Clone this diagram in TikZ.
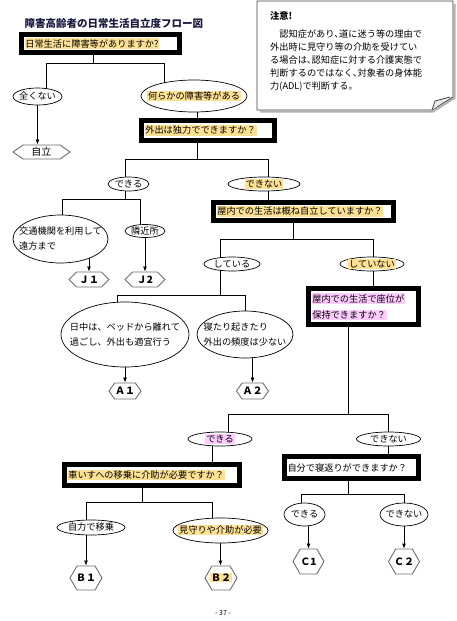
\documentclass[tikz,border=0pt]{standalone}
\usepackage{fontspec}
\setmainfont{Noto Sans CJK JP}
\usetikzlibrary{shapes.geometric, shapes.symbols, arrows.meta, positioning, calc}
\definecolor{hlyellow}{HTML}{FFE194}
\definecolor{hlpink}{HTML}{FFCCFF}
\definecolor{hexgray}{HTML}{6E6E6E}
\definecolor{titleblue}{HTML}{1A1A40}
\pgfdeclarelayer{background}
\pgfsetlayers{background,main}
\newcommand{\qfont}{\fontsize{9.2}{15}\selectfont}
\newcommand{\hly}[1]{{\setlength{\fboxsep}{0.8pt}\colorbox{hlyellow}{#1}}}
\newcommand{\hlp}[1]{{\setlength{\fboxsep}{0.8pt}\colorbox{hlpink}{#1}}}
\newcommand{\ctr}[1]{\raisebox{-.36em}[0pt][0pt]{\makebox[0pt]{#1}}}
\newcommand{\ctt}[1]{\raisebox{-.27em}[0pt][0pt]{\makebox[0pt]{\begin{tabular}{@{}l@{}}#1\end{tabular}}}}

\begin{document}
\begin{tikzpicture}[
  x=1pt, y=-1pt,
  qbox/.style={draw, line width=5pt, fill=white, inner xsep=3pt, inner ysep=1pt, align=left, font=\qfont},
  ell/.style={ellipse, draw, fill=white, inner sep=0pt, line width=0.7pt, font=\qfont},
  hexa/.style={signal, signal to=east and west, signal pointer angle=110, draw=hexgray, line width=0.9pt, fill=white, inner sep=0pt, font=\fontsize{10}{12}\selectfont},
  line/.style={line width=0.8pt},
  arr/.style={-{Latex[length=5pt, width=4pt]}, line width=0.8pt},
  notebox/.style={draw=black!75, line width=0.8pt},
]
\useasboundingbox (0,0) rectangle (456,621);

\node[anchor=west, text=titleblue, font=\fontsize{10.5}{12}\selectfont\bfseries] (title) at (21,24) {障害高齢者の日常生活自立度フロー図};

\coordinate (nw) at (257,1);
\coordinate (se) at (453,110);
\draw[black!30, line width=2pt] ($(nw -| se)+(1.5,3)$) -- ($(se)+(1.5,-12)$) -- ($(se)+(-20,1.5)$) -- ($(nw |- se)+(3,1.5)$);
\draw[notebox, fill=white] (nw) -- (nw -| se) -- ($(se)+(0,-13)$) -- ($(se)+(-21,0)$) -- (nw |- se) -- cycle;
\draw[notebox, fill=black!8] ($(se)+(-21,0)$) -- ($(se)+(-18,-9)$) -- ($(se)+(-3,-13)$);
\node[anchor=north west, inner sep=0pt, align=left, font=\fontsize{9.2}{13}\selectfont] (note) at (270,11)
  {\textbf{注意!}\\[5pt]　認知症があり､道に迷う等の理由で\\外出時に見守り等の介助を受けてい\\る場合は､認知症に対する介護実態で\\判断するのではなく､対象者の身体能\\力(ADL)で判断する。};

\node[qbox, text width=152pt, minimum height=18pt] (q1) at (100.5,43.5) {\hly{日常生活に障害等がありますか?}};
\node[ell, minimum width=49pt, minimum height=17pt] (e1) at (37.5,96.5) {\ctr{全くない}};
\node[ell, minimum width=106pt, minimum height=32pt] (e2) at (194,96) {\ctr{\hly{何らかの障害等がある}}};
\node[hexa, signal pointer angle=70, minimum width=57pt, minimum height=14pt] (h0) at (41.5,152) {\ctr{自立}};

\node[qbox, text width=127pt, minimum height=20pt] (q2) at (208,130.5) {\hly{外出は独力でできますか？}};
\node[ell, minimum width=41pt, minimum height=14pt] (e3) at (128.5,184) {\ctr{できる}};
\node[ell, minimum width=72pt, minimum height=14pt] (e4) at (264,184) {\ctr{\hly{できない}}};
\node[ell, minimum width=95pt, minimum height=48pt] (e5) at (60.5,239) {\ctt{交通機関を利用して\\遠方まで}};
\node[ell, minimum width=40pt, minimum height=13pt] (e6) at (145,231) {\ctr{隣近所}};
\node[hexa, signal pointer angle=90, minimum width=40pt, minimum height=15pt] (hj1) at (89,279.5) {\ctr{\bfseries Ｊ１}};
\node[hexa, signal pointer angle=90, minimum width=40pt, minimum height=15pt] (hj2) at (145,279.5) {\ctr{\bfseries Ｊ2}};

\node[qbox, text width=174pt, minimum height=18pt] (q3) at (303.5,211.5) {\hly{屋内での生活は概ね自立していますか？}};
\node[ell, minimum width=56pt, minimum height=14pt] (e7) at (232,264) {\ctr{している}};
\node[ell, minimum width=64pt, minimum height=14pt] (e8) at (372,264) {\ctr{\hly{していない}}};
\node[ell, minimum width=128pt, minimum height=65pt] (e9) at (125,334.5) {\ctt{日中は、ベッドから離れて\\過ごし、外出も適宜行う}};
\node[ell, minimum width=96pt, minimum height=47pt] (e10) at (245,334.5) {\ctt{寝たり起きたり\\外出の頻度は少ない}};
\node[hexa, minimum width=32pt, minimum height=16pt] (ha1) at (125,391) {\ctr{\bfseries Ａ１}};
\node[hexa, minimum width=32pt, minimum height=16pt] (ha2) at (252.5,391) {\ctr{\bfseries Ａ２}};

\node[qbox, text width=104pt, minimum height=36pt] (q4) at (363.5,306.5) {\hlp{屋内での生活で座位が}\\[1pt]\hlp{保持できますか？}};
\node[ell, minimum width=64pt, minimum height=14pt] (e11) at (220,439) {\ctr{\hlp{できる}}};
\node[ell, minimum width=64pt, minimum height=14pt] (e12) at (388.5,439) {\ctr{できない}};

\node[qbox, text width=169pt, minimum height=21pt] (q5) at (152,475) {\hly{車いすへの移乗に介助が必要ですか？}};
\node[ell, minimum width=68pt, minimum height=15pt] (e13) at (91,527.5) {\ctr{自力で移乗}};
\node[ell, minimum width=95pt, minimum height=25pt] (e14) at (220.5,530.5) {\ctr{\hly{見守りや介助が必要}}};
\node[hexa, signal pointer angle=120, minimum width=32pt, minimum height=24pt] (hb1) at (86,578) {\ctr{\bfseries Ｂ１}};
\node[hexa, signal pointer angle=120, minimum width=32pt, minimum height=24pt] (hb2) at (221,578) {\ctr{\bfseries\hly{Ｂ２}}};

\node[qbox, text width=128pt, minimum height=22pt] (q6) at (351.5,467.5) {自分で寝返りができますか？};
\node[ell, minimum width=41pt, minimum height=23pt] (e15) at (304.5,514.5) {\ctr{できる}};
\node[ell, minimum width=48pt, minimum height=23pt] (e16) at (404,514.5) {\ctr{できない}};
\node[hexa, signal pointer angle=120, minimum width=31pt, minimum height=25pt] (hc1) at (308.5,561.5) {\ctr{\bfseries Ｃ1}};
\node[hexa, signal pointer angle=120, minimum width=31pt, minimum height=25pt] (hc2) at (404,561.5) {\ctr{\bfseries Ｃ２}};

\node[font=\fontsize{7}{8}\selectfont] (page) at (223,613) {- 37 -};

\coordinate (ja) at (93,63);
\coordinate (ja1) at (46,63);
\coordinate (ja2) at (164,63);
\coordinate (jc) at (197,159);
\coordinate (jc1) at (125,159);
\coordinate (jc2) at (268,159);
\coordinate (jd) at (125,199);
\coordinate (jd1) at (62,199);
\coordinate (jd2) at (140,199);
\coordinate (je) at (293,239);
\coordinate (je1) at (220,239);
\coordinate (je2) at (373,239);
\coordinate (jf) at (220,295);
\coordinate (jf1) at (117,295);
\coordinate (jf2) at (245,295);
\coordinate (jg) at (348,414);
\coordinate (jg1) at (228,414);
\coordinate (jg2) at (388,414);
\coordinate (ji) at (142,502);
\coordinate (ji1) at (86,502);
\coordinate (ji2) at (212,502);
\coordinate (jk) at (348,494);
\coordinate (jk1) at (301,494);
\coordinate (jk2) at (404,494);

\begin{pgfonlayer}{background}
\draw[line] (ja |- q1.center) -- (ja);
\draw[line] (ja1 |- e1.center) -- (ja1) -- (ja2) -- (ja2 |- e2.center);
\draw[arr] (e1.south) -- (e1.south |- h0.north);
\draw[line] (jc |- e2.center) -- (jc);
\draw[line] (jc1 |- e3.center) -- (jc1) -- (jc2) -- (jc2 |- q3.center);
\draw[line] (jd |- e3.center) -- (jd);
\draw[line] (jd1 |- e5.center) -- (jd1) -- (jd2) -- (jd2 |- e6.center);
\draw[arr] (hj1.north |- e5.center) -- (hj1.north);
\draw[arr] (e6.south) -- (hj2.north);
\draw[line] (je |- q3.center) -- (je);
\draw[line] (je1 |- e7.center) -- (je1) -- (je2) -- (je2 |- q4.center);
\draw[line] (jf |- e7.center) -- (jf);
\draw[line] (jf1 |- e9.center) -- (jf1) -- (jf2) -- (jf2 |- e10.center);
\draw[arr] (e9.south) -- (e9.south |- ha1.north);
\draw[arr] (ha2.north |- e10.center) -- (ha2.north);
\draw[line] (jg |- q4.center) -- (jg);
\draw[line] (jg1 |- e11.center) -- (jg1) -- (jg2) -- (jg2 |- q6.center);
\draw[line] (ji2 |- e11.center) -- (ji2 |- q5.center);
\draw[line] (ji |- q5.center) -- (ji);
\draw[line] (ji1 |- e13.center) -- (ji1) -- (ji2) -- (ji2 |- e14.center);
\draw[arr] (hb1.north |- e13.center) -- (hb1.north);
\draw[arr] (e14.south) -- (e14.south |- hb2.north);
\draw[line] (jk |- q6.center) -- (jk);
\draw[line] (jk1 |- e15.center) -- (jk1) -- (jk2) -- (jk2 |- e16.center);
\draw[arr] (hc1.north |- e15.center) -- (hc1.north);
\draw[arr] (e16.south) -- (hc2.north);
\end{pgfonlayer}

\end{tikzpicture}
\end{document}
